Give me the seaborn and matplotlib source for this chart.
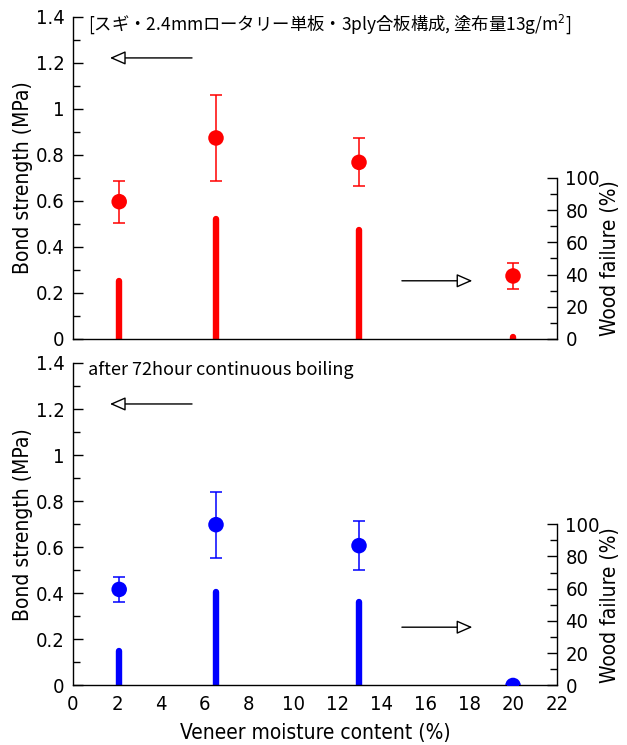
import numpy as np
import pandas as pd
import matplotlib
matplotlib.use("Agg")
import matplotlib.pyplot as plt
from matplotlib.ticker import MultipleLocator, FixedLocator
import seaborn as sns

sns.set_theme(style="white")
plt.rcParams["font.family"] = ["DejaVu Sans", "Noto Sans CJK JP"]
plt.rcParams["font.stretch"] = "condensed"
plt.rcParams["text.color"] = "black"
plt.rcParams["axes.labelcolor"] = "black"
plt.rcParams["xtick.color"] = "black"
plt.rcParams["ytick.color"] = "black"

# Veneer moisture content (%)
moisture = [2.1, 6.5, 13.0, 20.0]

# Normal state
bond_normal = [0.597, 0.874, 0.768, 0.274]
sd_normal = [0.092, 0.188, 0.105, 0.055]
wf_normal = [36, 74.5, 67.5, 1]

# After 72 h continuous boiling
bond_boil = [0.417, 0.698, 0.607, 0.0]
sd_boil = [0.055, 0.143, 0.105, 0.0]
wf_boil = [21.5, 58, 52, 0]

title_text = "[スギ・2.4mmロータリー単板・3ply合板構成, 塗布量13g/m$^2$]"
boil_text = "after 72hour continuous boiling"

fig = plt.figure(figsize=(6.27, 7.45), dpi=100)
ax_top = fig.add_axes([0.1164, 0.5450, 0.7720, 0.4322])
ax_bot = fig.add_axes([0.1164, 0.0799, 0.7720, 0.4329])

tick_fs = 14.5
label_fs = 15


def draw_panel(ax, bond, sd, wf, color, note, note_fs):
    df = pd.DataFrame({"moisture": moisture, "bond": bond, "sd": sd, "wf": wf})
    ax2 = ax.twinx()

    # wood failure as thick stems on the secondary axis
    ax2.vlines(df["moisture"], 0, df["wf"], color=color, linewidth=4.6,
               capstyle="round", zorder=2)
    ax2.set_ylim(0, 200)
    ax2.set_xlim(0, 22)

    # bond strength with standard deviation
    ax.errorbar(df["moisture"], df["bond"], yerr=df["sd"], fmt="none",
                ecolor=color, elinewidth=1.1, capsize=4.5, capthick=1.1, zorder=3)
    sns.scatterplot(data=df, x="moisture", y="bond", ax=ax, color=color,
                    s=125, edgecolor="none", zorder=4, legend=False)
    ax.set_zorder(ax2.get_zorder() + 1)
    ax.patch.set_visible(False)

    ax.set_xlim(0, 22)
    ax.set_ylim(0, 1.4)
    ax.xaxis.set_major_locator(MultipleLocator(2))
    ax.xaxis.set_minor_locator(MultipleLocator(1))
    ax.yaxis.set_major_locator(MultipleLocator(0.2))
    ax.yaxis.set_minor_locator(MultipleLocator(0.1))
    ax.yaxis.set_major_formatter(plt.FuncFormatter(
        lambda v, p: "0" if abs(v) < 1e-9 else (f"{v:.1f}" if abs(v - round(v)) > 1e-9 else f"{v:.0f}")))

    for side in ["top", "right"]:
        ax.spines[side].set_visible(False)
    for side in ["top", "left", "bottom"]:
        ax2.spines[side].set_visible(False)
    for s in ["left", "bottom"]:
        ax.spines[s].set_color("black")
        ax.spines[s].set_linewidth(1.0)
    ax2.spines["right"].set_color("black")
    ax2.spines["right"].set_linewidth(1.0)
    ax2.spines["right"].set_bounds(0, 100)

    ax.tick_params(axis="both", which="both", direction="in", color="black",
                   labelcolor="black", labelsize=tick_fs, width=1.0)
    ax.tick_params(axis="y", which="major", length=7, pad=6)
    ax.tick_params(axis="y", which="minor", length=5)
    ax.tick_params(axis="x", which="major", length=6, pad=7)
    ax.tick_params(axis="x", which="minor", length=6)

    ax2.yaxis.set_major_locator(FixedLocator([0, 20, 40, 60, 80, 100]))
    ax2.yaxis.set_minor_locator(FixedLocator([10, 30, 50, 70, 90]))
    ax2.tick_params(axis="y", which="both", direction="in", color="black",
                    labelcolor="black", labelsize=tick_fs, width=1.0,
                    right=True, left=False)
    ax2.tick_params(axis="y", which="major", length=7, pad=6)
    ax2.tick_params(axis="y", which="minor", length=5)
    ax2.set_ylabel("Wood failure (%)", fontsize=label_fs, rotation=90, color="black")
    ax2.yaxis.set_label_coords(1.088, 0.25)
    ax2.grid(False)

    ax.set_ylabel("Bond strength (MPa)", fontsize=label_fs, color="black")
    ax.yaxis.set_label_coords(-0.083, 0.5)
    ax.grid(False)

    # arrows pointing to the relevant axis
    arrow = dict(arrowstyle="-|>,head_length=0.8,head_width=0.35", ec="black",
                 fc="white", lw=1.0, shrinkA=0, shrinkB=0)
    ax.annotate("", xy=(1.68, 1.222), xytext=(5.41, 1.222), arrowprops=arrow)
    ax.annotate("", xy=(18.15, 0.253), xytext=(14.95, 0.253), arrowprops=arrow)

    ax.text(0.7, 1.37, note, fontsize=note_fs, va="center", ha="left",
            color="black", family=["Noto Sans CJK JP", "DejaVu Sans"],
            stretch="normal")
    return ax2


draw_panel(ax_top, bond_normal, sd_normal, wf_normal, "#ff0000", title_text, 12.5)
draw_panel(ax_bot, bond_boil, sd_boil, wf_boil, "#0000ff", boil_text, 13)

ax_top.set_xticklabels([])
ax_top.set_xlabel("")
ax_bot.set_xlabel("Veneer moisture content (%)", fontsize=label_fs, labelpad=6,
                  color="black")

fig.savefig("out.png", dpi=100)
